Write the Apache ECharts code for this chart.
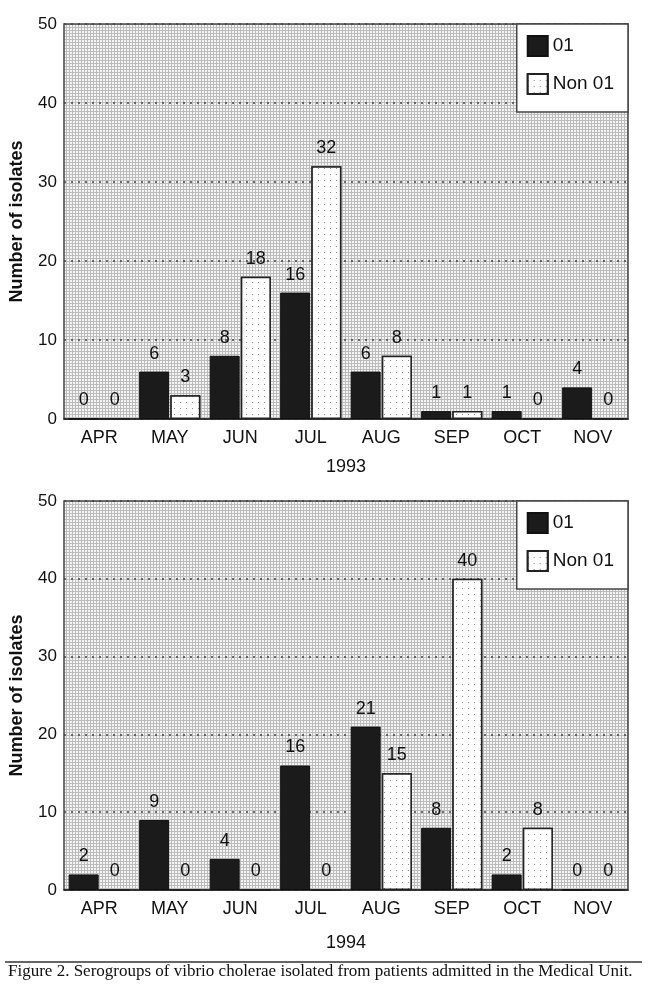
<!DOCTYPE html>
<html lang="en">
<head>
    <meta charset="UTF-8">
    <title>Serogroups of vibrio cholerae</title>
    <style>
        html, body { margin: 0; padding: 0; background: #fff; }
        .chart { width: 650px; height: 996px; }
    </style>
</head>
<body>
<div class="chart" id="showData"></div>
<script src="https://cdn.jsdelivr.net/npm/echarts@6/dist/echarts.min.js"></script>
<script>
    var months = ['APR', 'MAY', 'JUN', 'JUL', 'AUG', 'SEP', 'OCT', 'NOV'];
    var yTicks = [0, 10, 20, 30, 40, 50];

    var o1_1993 = [0, 6, 8, 16, 6, 1, 1, 4];
    var non01_1993 = [0, 3, 18, 32, 8, 1, 0, 0];
    var o1_1994 = [2, 9, 4, 16, 21, 8, 2, 0];
    var non01_1994 = [0, 0, 0, 0, 15, 40, 8, 0];

    var font = 'Liberation Sans, Arial, sans-serif';

    // fine grey mesh behind the bars
    var mesh = document.createElement('canvas');
    mesh.width = 3; mesh.height = 3;
    var ctx = mesh.getContext('2d');
    ctx.fillStyle = '#f4f4f4';
    ctx.fillRect(0, 0, 3, 3);
    ctx.fillStyle = '#bcbcbc';
    ctx.fillRect(0, 0, 3, 1);
    ctx.fillRect(0, 0, 1, 3);

    var dots = {
        symbol: 'rect', symbolSize: 1, color: '#8a8a8a',
        backgroundColor: '#fff', dashArrayX: [1, 5], dashArrayY: [1, 5]
    };

    function grid(top, h) {
        return {
            left: 60, right: 22, top: top, height: h,
            show: true, borderColor: '#444', borderWidth: 1.5,
            backgroundColor: {image: mesh, repeat: 'repeat'}
        };
    }

    function xAxis(idx, year, gap) {
        return {
            type: 'category', gridIndex: idx, data: months,
            axisTick: {show: false},
            axisLine: {lineStyle: {color: '#222', width: 1.5}},
            axisLabel: {color: '#111', fontSize: 18, fontFamily: font, margin: 10},
            name: year, nameLocation: 'middle', nameGap: gap,
            nameTextStyle: {color: '#111', fontSize: 18, fontFamily: font}
        };
    }

    function yAxis(idx) {
        return {
            type: 'value', gridIndex: idx, min: yTicks[0], max: yTicks[yTicks.length - 1], interval: 10,
            axisLine: {show: false}, axisTick: {show: false},
            axisLabel: {color: '#111', fontSize: 17, fontFamily: font, margin: 7},
            splitLine: {lineStyle: {color: '#444', type: [2, 5], width: 1.5}},
            name: 'Number of isolates', nameLocation: 'middle', nameGap: 38, nameRotate: 90,
            nameTextStyle: {color: '#111', fontSize: 18, fontWeight: 'bold', fontFamily: font}
        };
    }

    var label = {show: true, position: 'top', distance: 9, color: '#111', fontSize: 18, fontFamily: font};

    function bars(idx, name, data, dark) {
        return {
            name: name, type: 'bar', xAxisIndex: idx, yAxisIndex: idx, data: data,
            barWidth: 30, barGap: '4%',
            label: label,
            itemStyle: dark
                ? {color: '#1b1b1b', borderColor: '#111', borderWidth: 1}
                : {color: '#fff', borderColor: '#222', borderWidth: 1.5, decal: dots}
        };
    }

    function legend(top) {
        return {
            orient: 'vertical', right: 22, top: top,
            backgroundColor: '#fff', borderColor: '#444', borderWidth: 1.5,
            padding: [11, 14, 17, 10], itemGap: 16,
            itemWidth: 20, itemHeight: 20, icon: 'rect',
            textStyle: {color: '#111', fontSize: 19, fontFamily: font},
            data: ['01', 'Non 01']
        };
    }

    var option = {
        animation: false,
        backgroundColor: '#fff',
        legend: [legend(24), legend(501)],
        grid: [grid(24, 395), grid(501, 389)],
        xAxis: [xAxis(0, '1993', 39), xAxis(1, '1994', 44)],
        yAxis: [yAxis(0), yAxis(1)],
        series: [
            bars(0, '01', o1_1993, true),
            bars(0, 'Non 01', non01_1993, false),
            bars(1, '01', o1_1994, true),
            bars(1, 'Non 01', non01_1994, false)
        ],
        graphic: [
            {type: 'line', shape: {x1: 5, y1: 962, x2: 642, y2: 962}, style: {stroke: '#333', lineWidth: 1.5}},
            {type: 'text', left: 8, top: 963,
             style: {text: 'Figure 2. Serogroups of vibrio cholerae isolated from patients admitted in the Medical Unit.',
                     fill: '#111', font: '17px Liberation Serif, Times New Roman, serif'}}
        ]
    };

    var mychart = echarts.init(document.getElementById('showData'));
    mychart.setOption(option);
</script>
</body>
</html>
